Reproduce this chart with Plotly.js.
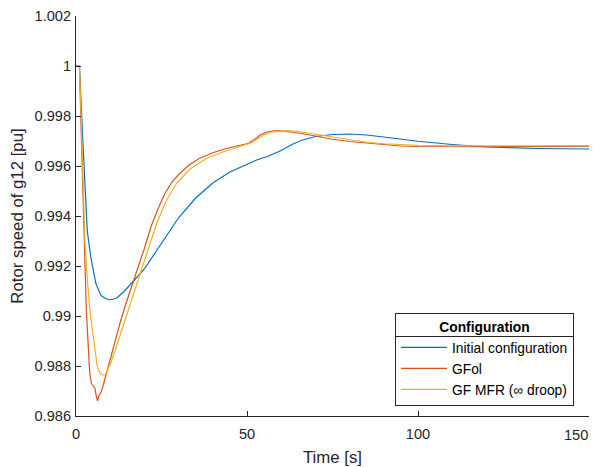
<!DOCTYPE html>
<html>
<head>
<meta charset="utf-8">
<script src="https://cdn.plot.ly/plotly-3.0.1.min.js"></script>
<style>html,body{margin:0;padding:0;background:#fff;}#chart{width:598px;height:467px;}</style>
</head>
<body>
<div id="chart"></div>
<script>
// Series names
const seriesNames = ["Initial configuration", "GFol", "GF MFR (\u221e droop)"];
const seriesColors = ["#0072BD", "#D95319", "#EDB120"];

// Initial configuration (blue)
const tBlue = [0, 1, 2, 2.6, 3.3, 4.3, 5, 5.8, 7.2, 8, 9.2, 10, 11.1, 12, 14, 16, 18, 20, 23, 26, 30, 35, 40, 45, 50, 53, 56, 60, 63, 66, 70, 75, 80, 85, 90, 95, 100, 110, 120, 135, 150];
const wBlue = [1, 1, 0.9970, 0.9954, 0.9934, 0.99237, 0.9918, 0.99131, 0.99084, 0.99075, 0.99067, 0.99065, 0.99068, 0.99073, 0.99097, 0.99127, 0.99157, 0.99188, 0.9925, 0.9931, 0.99393, 0.99472, 0.99532, 0.99576, 0.99607, 0.99625, 0.99638, 0.99662, 0.99685, 0.99703, 0.99718, 0.99726, 0.99728, 0.99724, 0.99716, 0.99707, 0.99699, 0.99686, 0.99676, 0.99670, 0.99668];

// GFol (red)
const tRed = [0, 1, 1.7, 2.3, 3, 3.5, 4, 4.5, 5, 5.5, 6, 6.3, 6.8, 7.3, 8, 9, 10, 11, 12, 13, 14.5, 16, 17, 18.5, 20, 22, 24, 26, 28, 30, 33, 36, 40, 44, 48, 50.5, 52, 54, 56, 58, 60, 63, 66, 70, 75, 80, 85, 90, 95, 100, 110, 120, 135, 150];
const wRed = [1, 1, 0.9965, 0.9932, 0.9903, 0.9890, 0.98775, 0.9873, 0.98722, 0.98712, 0.98675, 0.98661, 0.98685, 0.98693, 0.98725, 0.98775, 0.98832, 0.98885, 0.9893, 0.98978, 0.99045, 0.9911, 0.9915, 0.9921, 0.9927, 0.9936, 0.9943, 0.9949, 0.99535, 0.99566, 0.99603, 0.9963, 0.99653, 0.9967, 0.99683, 0.99691, 0.99705, 0.99725, 0.99737, 0.99741, 0.99741, 0.99736, 0.9973, 0.9972, 0.99707, 0.99698, 0.99691, 0.99685, 0.9968, 0.99678, 0.99677, 0.99677, 0.99678, 0.99679];

// GF MFR (yellow)
const tYel = [0, 1, 1.6, 2.1, 2.6, 3.3, 4, 4.8, 5.5, 6.2, 7, 7.7, 8.6, 9.3, 10.1, 11.5, 13.1, 14.5, 16, 17.5, 18.9, 20.7, 23.6, 26.5, 29.4, 33.3, 38.2, 43.1, 48, 50.9, 53, 55, 57, 60, 62, 65, 70, 75, 80, 85, 90, 100, 110, 120, 135, 150];
const wYel = [1, 1, 0.9975, 0.9950, 0.9930, 0.9915, 0.9903, 0.98944, 0.9886, 0.988, 0.98772, 0.98764, 0.98765, 0.98785, 0.98811, 0.98865, 0.98931, 0.9899, 0.99051, 0.99112, 0.99168, 0.99251, 0.99371, 0.99464, 0.99531, 0.99587, 0.99631, 0.99657, 0.99677, 0.99691, 0.99708, 0.99725, 0.99735, 0.99741, 0.99742, 0.99738, 0.99727, 0.99714, 0.99703, 0.99695, 0.99689, 0.99683, 0.99681, 0.9968, 0.99681, 0.99682];

// Tick labels (the last x label is placed as an annotation so it stays inside the page)
const xTickVals = [0, 50, 100, 150];
const xTickText = ["0", "50", "100", ""];
const xLastTick = {value: 150, text: "150"};
const yTickVals = [0.986, 0.988, 0.99, 0.992, 0.994, 0.996, 0.998, 1, 1.002];
const yTickText = ["0.986", "0.988", "0.99", "0.992", "0.994", "0.996", "0.998", "1", "1.002"];

const xs = [tBlue, tRed, tYel];
const ys = [wBlue, wRed, wYel];
const traces = seriesNames.map((n, i) => ({
  x: xs[i], y: ys[i], name: n, type: "scatter", mode: "lines",
  line: {color: seriesColors[i], width: 1.2}
}));

const fam = "Liberation Sans, Arial, sans-serif";
const ink = "#262626";
const tickSize = 14.6;
const axisCommon = {
  showgrid: false, zeroline: false, showline: true, linecolor: ink, linewidth: 1,
  ticks: "inside", ticklen: 5, tickcolor: ink, tickwidth: 1, mirror: false,
  tickfont: {family: fam, size: tickSize, color: ink}, tickmode: "array",
  ticklabeloverflow: "allow"
};
const layout = {
  width: 598, height: 467,
  margin: {l: 76, r: 9, t: 16, b: 51},
  paper_bgcolor: "#fff", plot_bgcolor: "#fff",
  font: {family: fam, color: ink},
  showlegend: true,
  xaxis: Object.assign({}, axisCommon, {
    range: [0, 150], tickvals: xTickVals, ticktext: xTickText, ticklabelstandoff: 4,
    title: {text: "Time [s]", font: {family: fam, size: 16.8, color: ink}, standoff: 10}
  }),
  yaxis: Object.assign({}, axisCommon, {
    range: [0.986, 1.002], tickvals: yTickVals, ticktext: yTickText, ticklabelstandoff: 1,
    title: {text: "Rotor speed of g12 [pu]", font: {family: fam, size: 16.8, color: ink}, standoff: 6}
  }),
  annotations: [{
    xref: "x", yref: "paper", x: xLastTick.value, y: 0, text: xLastTick.text,
    showarrow: false, xanchor: "right", yanchor: "top", xshift: 1, yshift: -9,
    font: {family: fam, size: tickSize, color: ink}
  }],
  legend: {
    x: 0.9708, y: 0.025, xanchor: "right", yanchor: "bottom",
    bgcolor: "rgba(255,255,255,0)", bordercolor: ink, borderwidth: 1,
    font: {family: fam, size: 13.8, color: "#000"},
    title: {text: "<b>Configuration</b>", side: "top center", font: {family: fam, size: 13.8, color: "#000"}},
    tracegroupgap: 0, itemwidth: 46
  }
};
Plotly.newPlot("chart", traces, layout, {displayModeBar: false, staticPlot: true}).then(gd => {
  // separator line under the legend title
  const gb = gd.getBoundingClientRect();
  const bg = gd.querySelector(".legend .bg");
  const title = gd.querySelector(".legend .legendtitletext");
  const items = gd.querySelectorAll(".legend .traces");
  if (!bg || !title || !items.length) return;
  const b = bg.getBoundingClientRect();
  const tb = title.getBoundingClientRect();
  const ib = items[0].getBoundingClientRect();
  const ySep = Math.round((tb.bottom + ib.top) / 2 - gb.top) + 0.5;
  const fl = gd._fullLayout;
  const xp = px => (px - fl._size.l) / fl._size.w;
  const yp = py => (fl._size.t + fl._size.h - py) / fl._size.h;
  return Plotly.relayout(gd, {shapes: [{
    type: "line", xref: "paper", yref: "paper", layer: "above",
    x0: xp(b.left - gb.left), x1: xp(b.right - gb.left), y0: yp(ySep), y1: yp(ySep),
    line: {color: ink, width: 1}
  }]});
});
</script>
</body>
</html>
